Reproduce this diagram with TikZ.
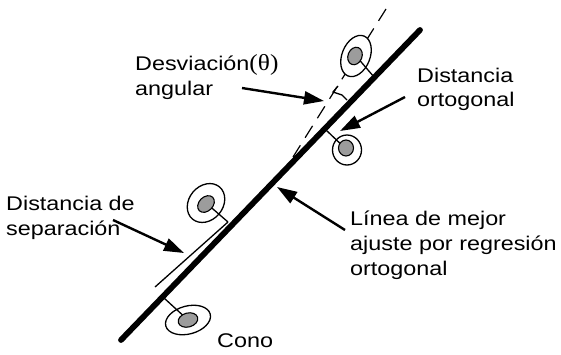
\documentclass[tikz,border=0pt]{standalone}
\usepackage{fontspec}
\setmainfont{Liberation Sans}
\newfontfamily\labfont[FakeStretch=1.18]{Liberation Sans}
\newfontfamily\thetafont[FakeStretch=1.1]{Liberation Serif}
\usetikzlibrary{arrows.meta,shapes.geometric}
\begin{document}
\begin{tikzpicture}[x=1pt,y=-1pt,
  lbl/.style={anchor=base west, inner sep=0pt, font=\labfont\fontsize{19.8}{25}\selectfont},
  mainline/.style={line width=5.8pt, line cap=round},
  ring/.style={ellipse, draw, line width=1.3pt, fill=white, inner sep=0pt},
  core/.style={ellipse, draw, line width=1.1pt, fill=gray!78, inner sep=0pt},
  thinline/.style={line width=1.3pt},
  pointer/.style={line width=2.4pt, -{Triangle[length=20pt,width=13pt]}},
  axisline/.style={line width=1.2pt, dash pattern=on 14pt off 9pt}]
\useasboundingbox (0,0) rectangle (561,354);

% coordinates
\coordinate (mlA) at (121,340);
\coordinate (mlB) at (420,30);
\coordinate (axA) at (386,9);
\coordinate (axB) at (293,157);
\coordinate (sepA) at (228,222);
\coordinate (sepB) at (155,287);
\coordinate (footU) at (374,77);
\coordinate (footR) at (326,130);
\coordinate (footB) at (164,298);

% dashed cone axis
\draw[axisline] (axA) -- (axB);
% separation line
\draw[thinline] (sepA) -- (sepB);

% rings
\node[ring, minimum width=43pt, minimum height=28pt, rotate=68] (ringU) at (356,56) {};
\node[ring, minimum width=29pt, minimum height=30pt] (ringR) at (347,150) {};
\node[ring, minimum width=42pt, minimum height=34pt, rotate=50] (ringL) at (206,203) {};
\node[ring, minimum width=46pt, minimum height=28pt, rotate=15] (ringB) at (188,320) {};

% spokes
\draw[thinline] (ringU.center) -- (footU);
\draw[thinline] (ringR.center) -- (footR);
\draw[thinline] (ringL.center) -- (sepA);
\draw[thinline] (ringB.center) -- (footB);

% cores
\node[core, minimum width=18pt, minimum height=14pt, rotate=68] (coreU) at (355,56) {};
\node[core, minimum width=15pt, minimum height=16pt] (coreR) at (346,148) {};
\node[core, minimum width=19pt, minimum height=14pt, rotate=45] (coreL) at (206,204) {};
\node[core, minimum width=20pt, minimum height=14pt, rotate=15] (coreB) at (188,320) {};

% angle mark
\draw[thinline] (338,86) -- (333,92) -- (342,95) -- (347,100);

% main line
\draw[mainline] (mlA) -- (mlB);

% labels
\node[lbl] (desv) at (135,70) {Desviación{\thetafont\fontsize{23}{25}\selectfont(θ)}};
\node[lbl] (desv2) at (135,95) {angular};
\node[lbl] (orto) at (417,82) {Distancia};
\node[lbl] (orto2) at (417,106) {ortogonal};
\node[lbl] (sep) at (6,210) {Distancia de};
\node[lbl] (sep2) at (6,235) {separación};
\node[lbl] (lin) at (350,225) {Línea de mejor};
\node[lbl] (lin2) at (350,250) {ajuste por regresión};
\node[lbl] (lin3) at (350,275) {ortogonal};
\node[lbl] (cono) at (217,347) {Cono};

% pointers
\coordinate (pD0) at (242,88);  \coordinate (pD1) at (324,101);
\coordinate (pO0) at (405,97);  \coordinate (pO1) at (340,131);
\coordinate (pS0) at (113,220); \coordinate (pS1) at (184,253);
\coordinate (pL0) at (345,230); \coordinate (pL1) at (277,187);
\draw[pointer] (pD0) -- (pD1);
\draw[pointer] (pO0) -- (pO1);
\draw[pointer] (pS0) -- (pS1);
\draw[pointer] (pL0) -- (pL1);
\end{tikzpicture}
\end{document}
